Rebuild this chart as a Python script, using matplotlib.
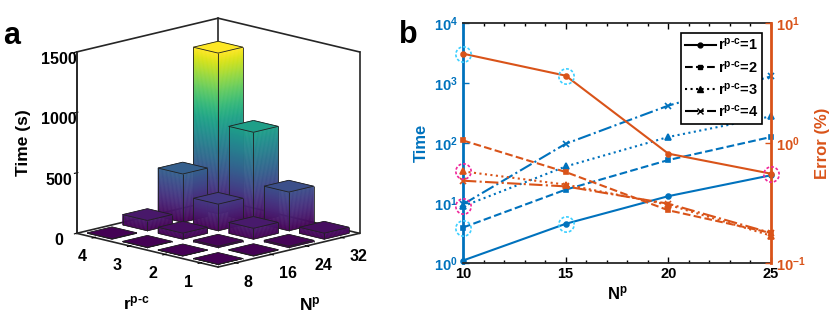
import numpy as np
import matplotlib
matplotlib.use('Agg')
import matplotlib.pyplot as plt
from mpl_toolkits.mplot3d.art3d import Poly3DCollection, Line3DCollection
from matplotlib.path import Path
from matplotlib.lines import Line2D
from matplotlib.ticker import MultipleLocator, NullLocator

plt.rcParams['font.family'] = ['Liberation Sans', 'DejaVu Sans']
plt.rcParams['font.weight'] = 'bold'
plt.rcParams['axes.labelweight'] = 'bold'
plt.rcParams['mathtext.fontset'] = 'custom'
plt.rcParams['mathtext.rm'] = 'Liberation Sans:bold'
plt.rcParams['mathtext.it'] = 'Liberation Sans:bold'
plt.rcParams['mathtext.bf'] = 'Liberation Sans:bold'
plt.rcParams['mathtext.default'] = 'rm'

# ---------------- data: panel a ----------------
N_a = [8, 16, 24, 32]
r_a = [1, 2, 3, 4]
time_N8 = [1, 2, 3, 4]          # r = 1..4
time_N16 = [4, 12, 50, 85]
time_N24 = [12, 90, 220, 400]
time_N32 = [50, 320, 745, 1330]
z_ticks = [0, 500, 1000, 1500]

# ---------------- data: panel b ----------------
N_b = [10, 15, 20, 25]
time_r1 = [1.1, 4.5, 13, 29]
time_r2 = [3.9, 16.7, 52, 126]
time_r3 = [8.8, 40.6, 126, 278]
time_r4 = [9.5, 97, 420, 1290]
err_r1 = [5.55, 3.64, 0.815, 0.555]
err_r2 = [1.05, 0.573, 0.275, 0.178]
err_r3 = [0.58, 0.45, 0.306, 0.169]
err_r4 = [0.485, 0.435, 0.312, 0.178]
legend_labels = [r'r$^{p\text{-}c}$=1', r'r$^{p\text{-}c}$=2', r'r$^{p\text{-}c}$=3', r'r$^{p\text{-}c}$=4']

BLUE = '#0072BD'
ORANGE = '#D95319'
CYAN = '#3CCFFF'
MAGENTA = '#F0249A'

fig = plt.figure(figsize=(8.3, 3.17), dpi=100)

# ================= panel a =================
ax = fig.add_axes([-0.0228, -0.0045, 0.56, 1.08], projection='3d', computed_zorder=False)
ax.set_proj_type('ortho')
ax.view_init(elev=13.8, azim=-135)
xmin, xmax = 4, 36
ymin, ymax = 0.5, 4.5
zmin, zmax = 0, 1500
ax.set_xlim(xmin, xmax)
ax.set_ylim(ymin, ymax)
ax.set_zlim(zmin, zmax)
ax.set_box_aspect((1, 1, 0.934), zoom=0.961)

cmap = plt.get_cmap('viridis')
grid = [time_N8, time_N16, time_N24, time_N32]
hmax = max(max(row) for row in grid)
norm = plt.Normalize(0, hmax)
bwx = 0.7 * 8
bwy = 0.7
for i, Nv in enumerate(N_a):
    for j, rv in enumerate(r_a):
        h = grid[i][j]
        x0, x1 = Nv - bwx / 2, Nv + bwx / 2
        y0, y1 = rv - bwy / 2, rv + bwy / 2
        n = max(1, int(np.ceil(h / 8)))
        zs = np.linspace(0, h, n + 1)
        polys, cols = [], []
        for k in range(n):
            za, zb = zs[k], zs[k + 1]
            c = cmap(norm((za + zb) / 2))
            polys.append([(x0, y0, za), (x0, y1, za), (x0, y1, zb), (x0, y0, zb)])
            cols.append(c)
            polys.append([(x0, y0, za), (x1, y0, za), (x1, y0, zb), (x0, y0, zb)])
            cols.append(c)
        polys.append([(x0, y0, h), (x1, y0, h), (x1, y1, h), (x0, y1, h)])
        cols.append(cmap(norm(h)))
        zo = 10 + (6 - (i + j)) * 2
        pc = Poly3DCollection(polys, facecolors=cols, edgecolors=cols, linewidths=0.4)
        pc.set_zorder(zo)
        ax.add_collection3d(pc)
        segs = [
            [(x0, y0, h), (x1, y0, h)], [(x1, y0, h), (x1, y1, h)],
            [(x1, y1, h), (x0, y1, h)], [(x0, y1, h), (x0, y0, h)],
            [(x0, y0, 0), (x0, y0, h)], [(x1, y0, 0), (x1, y0, h)],
            [(x0, y1, 0), (x0, y1, h)],
            [(x0, y0, 0), (x1, y0, 0)], [(x0, y0, 0), (x0, y1, 0)],
        ]
        lc = Line3DCollection(segs, colors='#202020', linewidths=0.6)
        lc.set_zorder(zo + 1)
        ax.add_collection3d(lc)

# box frame
frame_kw = dict(color='#262626', lw=1.2, zorder=1)
ax.plot([xmax, xmax], [ymax, ymax], [zmin, zmax], **frame_kw)
ax.plot([xmin, xmax, xmax], [ymax, ymax, ymin], [zmax, zmax, zmax], **frame_kw)
ax.plot([xmin, xmax, xmax], [ymax, ymax, ymin], [zmin, zmin, zmin], **frame_kw)
ax.plot([xmax, xmax], [ymin, ymin], [zmin, zmax], **frame_kw)
ax.plot([xmin, xmin], [ymax, ymax], [zmin, zmax], **frame_kw)

ax.grid(False)
for a in (ax.xaxis, ax.yaxis, ax.zaxis):
    a.set_pane_color((1, 1, 1, 0))
    a.pane.set_edgecolor((1, 1, 1, 0))
    a.line.set_color('#262626')
    a.line.set_linewidth(1.2)
    a.set_rotate_label(False)
ax.set_xticks(N_a)
ax.set_yticks(r_a)
ax.set_zticks(z_ticks)
ax.tick_params(labelsize=11.5, pad=-1)
ax.tick_params(axis='z', pad=0)
for lbl in ax.get_yticklabels():
    lbl.set_ha('right')
for lbl in ax.get_xticklabels():
    lbl.set_ha('left')
ax.set_zlabel('Time (s)', fontsize=12.5, labelpad=3, rotation=90)
fig.text(136 / 830, 1 - 303 / 317, r'r$^{p\text{-}c}$', fontsize=12.5, fontweight='bold',
         ha='center', va='center')
fig.text(310 / 830, 1 - 304 / 317, 'N$^p$', fontsize=12.5, fontweight='bold',
         ha='center', va='center')

# ================= panel b =================
axb = fig.add_axes([463 / 830, 54 / 317, 308 / 830, 240 / 317])
axe = axb.twinx()
styles = [('-', 'o', 3.5), ('--', 's', 3.5), (':', '^', 4.5), ('-.', 'x', 5)]
times = [time_r1, time_r2, time_r3, time_r4]
errs = [err_r1, err_r2, err_r3, err_r4]
for (ls, mk, ms), t in zip(styles, times):
    axb.plot(N_b, t, ls=ls, marker=mk, ms=ms, color=BLUE, lw=1.5, mew=1.2, clip_on=False)
for (ls, mk, ms), e in zip(styles, errs):
    axe.plot(N_b, e, ls=ls, marker=mk, ms=ms, color=ORANGE, lw=1.5, mew=1.2, clip_on=False)

# dashed highlight circles
def dashed_circle(n=10, frac=0.6):
    verts, codes = [], []
    for k in range(n):
        a0 = 2 * np.pi * k / n
        ts = np.linspace(a0, a0 + 2 * np.pi / n * frac, 6)
        for m, t in enumerate(ts):
            verts.append((np.cos(t), np.sin(t)))
            codes.append(Path.MOVETO if m == 0 else Path.LINETO)
    return Path(verts, codes)

circ = dashed_circle()
ck = dict(marker=circ, ms=11, mfc='none', mew=1.2, ls='none', clip_on=False, zorder=5)
axe.plot([N_b[0], N_b[1]], [err_r1[0], err_r1[1]], mec=CYAN, **ck)
axb.plot([N_b[0], N_b[1]], [time_r2[0], time_r1[1]], mec=CYAN, **ck)
axe.plot([N_b[0], N_b[3]], [err_r3[0], err_r1[3]], mec=MAGENTA, **ck)
axb.plot([N_b[0]], [time_r3[0]], mec=MAGENTA, **ck)

axb.set_xlim(10, 25)
axb.set_yscale('log')
axb.set_ylim(1, 1e4)
axe.set_yscale('log')
axe.set_ylim(0.1, 10)
axb.set_xticks(N_b)
axb.xaxis.set_minor_locator(MultipleLocator(1))
axb.yaxis.set_minor_locator(NullLocator())
axe.yaxis.set_minor_locator(NullLocator())
axb.tick_params(axis='x', which='both', direction='in', top=True, labelsize=10.5, width=1, pad=3)
axb.tick_params(axis='x', which='major', length=4)
axb.tick_params(axis='x', which='minor', length=2)
axb.tick_params(axis='y', direction='in', colors=BLUE, labelsize=10.5, width=1, length=4)
axe.tick_params(axis='y', direction='in', colors=ORANGE, labelsize=10.5, width=1, length=4)
for s in ('top', 'bottom'):
    axb.spines[s].set_color('#262626')
    axb.spines[s].set_linewidth(1.3)
axb.spines['left'].set_color(BLUE)
axb.spines['left'].set_linewidth(2)
axb.spines['right'].set_visible(False)
for s in ('top', 'bottom', 'left'):
    axe.spines[s].set_visible(False)
axe.spines['right'].set_color(ORANGE)
axe.spines['right'].set_linewidth(2)
axb.set_xlabel('N$^p$', fontsize=12, labelpad=2)
axb.set_ylabel('Time', fontsize=12, color=BLUE, labelpad=4)
axe.set_ylabel('Error (%)', fontsize=12, color=ORANGE, labelpad=7)

handles = [Line2D([], [], color='k', ls=ls, marker=mk, ms=ms, lw=1.5) for ls, mk, ms in styles]
leg = axe.legend(handles, legend_labels, loc='upper right', bbox_to_anchor=(0.972, 0.96),
                 fancybox=False, framealpha=1, edgecolor='k', fontsize=10.5,
                 handlelength=2.1, handletextpad=0.15, labelspacing=0.42, borderpad=0.3,
                 borderaxespad=0)
leg.get_frame().set_linewidth(1.2)

fig.text(3 / 830, 1 - 44 / 317, 'a', fontsize=22, fontweight='bold')
fig.text(399 / 830, 1 - 43 / 317, 'b', fontsize=22, fontweight='bold')

fig.savefig('out.png', dpi=100)
